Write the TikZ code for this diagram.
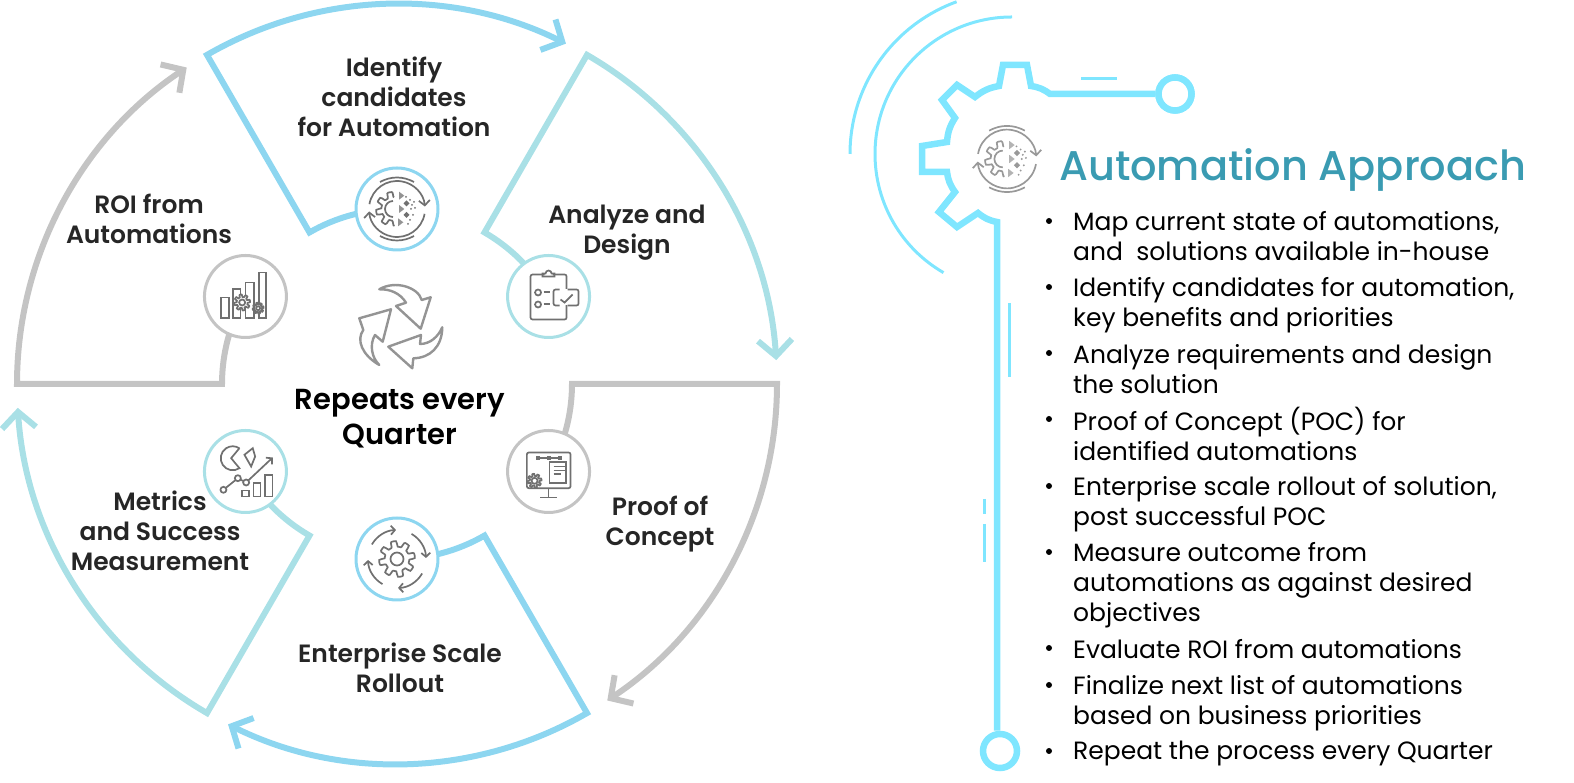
\documentclass[tikz,border=0pt]{standalone}
\usepackage{fontspec}
\setmainfont{Poppins}
\newfontfamily\labelfont{Poppins SemiBold}
\newfontfamily\titlefont{Poppins Medium}
\usetikzlibrary{arrows.meta,positioning}
\definecolor{blueline}{HTML}{8DD6F0}
\definecolor{tealline}{HTML}{A9E0E6}
\definecolor{greyline}{HTML}{C4C4C4}
\definecolor{cyanline}{HTML}{7FE6FF}
\definecolor{titleteal}{HTML}{3A9BB2}
\definecolor{icongrey}{HTML}{707070}
\tikzset{
  gearpath/.pic={\draw[fill=white] plot[domain=0:360,samples=121,smooth] (\x:{#1*(0.84+0.16*tanh(4*sin(8*\x)))}) -- cycle;},
  autoicon/.pic={
    \draw (-17,27) .. controls (-6,33) and (6,33) .. (17,27);
    \draw (-17,-27) .. controls (-6,-33) and (6,-33) .. (17,-27);
    \draw[-{Straight Barb[length=5,width=11]}] (170:28) arc[start angle=170,end angle=5,radius=28];
    \draw[-{Straight Barb[length=5,width=11]}] (-10:28) arc[start angle=-10,end angle=-175,radius=28];
    \draw plot[domain=85:275,samples=61,smooth] ([xshift=-4]\x:{17*(0.84+0.16*tanh(4*sin(8*\x)))});
    \draw (-4,8) arc[start angle=90,end angle=270,radius=8];
    \foreach \tx/\ty in {4.3/13.3,4.3/0,3.3/-13.3}{\fill[fill opacity=.75] (\tx-2.2,\ty+4) -- (\tx+3,\ty) -- (\tx-2.2,\ty-4) -- cycle;}
    \foreach \tx/\ty in {9.5/5.7,9.5/-6}{\fill (\tx-3,\ty) -- (\tx,\ty+3) -- (\tx+3,\ty) -- (\tx,\ty-3) -- cycle;}
    \foreach \tx/\ty in {9/12,13/9,15/4,17/7,14/0,18/1,13/-11,16/-6,11/-15}{\fill (\tx,\ty) circle[radius=1];}
  },
  clipicon/.pic={
    \draw[rounded corners=2] (-4,22) -- (-18,22) -- (-18,-23) -- (18,-23) -- (18,22) -- (4,22);
    \draw (-6,22) -- (-6,23) -- (-3,23) arc[start angle=180,end angle=0,radius=3] -- (6,23) -- (6,20) -- (-6,20) -- cycle;
    \foreach \ty in {4,-8}{\draw (-10.5,\ty) circle[radius=3]; \draw (-5,\ty+.5) -- (1,\ty+.5);}
    \fill[white] (14,-9) rectangle (22,7);
    \draw[rounded corners=2] (11,7) -- (5,7) -- (5,-9) -- (11,-9);
    \draw[rounded corners=2] (19,7) -- (30,7) -- (30,-9) -- (19,-9);
    \draw (12,-3) -- (16,-6) -- (24,2);
  },
  roiicon/.pic={
    \foreach \xa/\xb/\yt in {-24.3/-16.7/-1,-12.3/-5/7.3,0/8.3/14,13.3/20.7/24}{\draw (\xa,-21.7) rectangle (\xb,\yt);}
    \pic at (-3.3,-6) {gearpath=8};
    \draw[fill=white] (-3.3,-6) circle[radius=3];
    \pic at (12.7,-11.7) {gearpath=5.5};
    \draw (12.7,-11.7) circle[radius=2];
  },
  pocicon/.pic={
    \draw[rounded corners=2] (-21.7,19) rectangle (22,-16.7);
    \draw (0,-16.7) -- (0,-26) (-8.3,-26) -- (8.3,-26);
    \draw (-11,13.3) -- (11,13.3);
    \foreach \tx in {-10.7,0,11}{\fill (\tx-2,11.3) rectangle (\tx+2,15.3);}
    \draw[fill=white] (1,9.3) rectangle (17.7,-11.7);
    \foreach \ty/\tl in {5/11,1/11,-2.7/7}{\draw (5,\ty) -- (5+\tl,\ty);}
    \pic at (-14,-9.3) {gearpath=7};
    \draw[fill=white] (-14,-9.3) circle[radius=3];
  },
  metricicon/.pic={
    \draw (-6,23.3) -- (-14.3,13.3) -- (-6,3.3) arc[start angle=-56,end angle=-304,radius=12];
    \draw (-1,16.7) -- (7.3,23.3) -- (9.7,15) -- (5.7,5) -- cycle;
    \draw[-{Straight Barb[length=4,width=9]}] (-22,-18.3) -- (-7.6,-6.7) -- (0.7,-11) -- (27.3,14);
    \foreach \tx/\ty in {-22/-18.3,-7.6/-6.7,0.7/-11}{\draw[fill=white] (\tx,\ty) circle[radius=3];}
    \foreach \xa/\xb/\yt in {-3.7/3.7/-19,8/15/-11.6,19.7/27/-3.6}{\draw (\xa,-25) rectangle (\xb,\yt);}
  },
  rollicon/.pic={
    \pic {gearpath=18};
    \draw (0,0) circle[radius=6.5];
    \foreach \sa in {150,60,-30,-120}{\draw[-{Straight Barb[length=4,width=9]}] (\sa:29) arc[start angle=\sa,end angle=\sa-58,radius=29];}
  }
}
\begin{document}
\begin{tikzpicture}[x=1pt,y=1pt,>=Stealth,
  labeltext/.style={font=\labelfont\fontsize{25}{30}\selectfont,text=black!85,align=center,inner sep=0pt},
  listtext/.style={font=\fontsize{25}{30}\selectfont,text=black,align=left,anchor=west,inner sep=0pt},
  iconring/.style={circle,draw,fill=white,line width=3,minimum size=82,inner sep=0pt},
  iconline/.style={draw=icongrey,fill=none,line width=1.7,icongrey},
  wheelline/.style={line width=6,line join=miter,miter limit=20},
  panelline/.style={draw=cyanline,line width=6.5},
  knob/.style={circle,draw=cyanline,line width=6.5,fill=white,inner sep=0pt}]
\useasboundingbox (0,0) rectangle (1574,783);
% wheel
\begin{scope}[shift={(397,399)}]
\foreach \sa/\col in {120/blueline,60/tealline,0/greyline,-60/blueline,-120/tealline,-180/greyline}{
  \draw[wheelline,draw=\col,-{Straight Barb[length=16,width=34]}] (\sa-30:175) arc[start angle=\sa-30,end angle=\sa,radius=175] -- (\sa:380) arc[start angle=\sa,end angle=\sa-56.4,radius=380];
}
\node[iconring,draw=blueline] (ringA) at (90:175) {};
\node[iconring,draw=tealline] (ringB) at (30:175) {};
\node[iconring,draw=greyline] (ringC) at (-30:175) {};
\node[iconring,draw=blueline] (ringD) at (-90:175) {};
\node[iconring,draw=tealline] (ringE) at (-150:175) {};
\node[iconring,draw=greyline] (ringF) at (150:175) {};
\end{scope}
\pic[iconline] at (ringA) {autoicon};
\pic[iconline] at (ringB) {clipicon};
\pic[iconline] at (ringC) {pocicon};
\pic[iconline] at (ringD) {rollicon};
\pic[iconline] at (ringE) {metricicon};
\pic[iconline] at (ringF) {roiicon};
% recycle arrows
\begin{scope}[shift={(400,458)},draw=black!42,line width=2.4,line join=round]
\draw (-20.7,35.7) .. controls (-5,45) and (18,38) .. (21.7,25) -- (30.7,27.7) -- (20.7,-3.7) -- (-4,19) -- (6,22.3) .. controls (0,32) and (-10,36) .. cycle;
\draw (-20.7,-40) .. controls (-38,-30) and (-44,-15) .. (-36.7,-5) -- (-40.7,6.7) -- (-9,15.7) -- (-17.3,-16.7) -- (-25,-10) .. controls (-31,-20) and (-28,-33) .. cycle;
\draw (42.3,-2.3) .. controls (42,-22) and (30,-33) .. (13.3,-33.3) -- (12.3,-43.3) -- (-11.7,-21.7) -- (21,-10) -- (20,-19) .. controls (30,-19) and (38,-12) .. cycle;
\end{scope}
% labels
\node[labeltext] (lblA) at (394,686) {Identify\\candidates\\for Automation};
\node[labeltext] (lblB) at (627,550) {Analyze and\\Design};
\node[labeltext] (lblC) at (660,259) {Proof of\\Concept};
\node[labeltext] (lblD) at (400,115) {Enterprise Scale\\Rollout};
\node[labeltext] (lblE) at (160,252) {Metrics\\and Success\\Measurement};
\node[labeltext] (lblF) at (149,564) {ROI from\\Automations};
\node[labeltext,text=black,font=\labelfont\fontsize{29}{35}\selectfont] (lblRep) at (400,364) {Repeats every\\Quarter};
% panel
\node[knob,minimum size=33] (knobTop) at (1175,689) {};
\node[knob,minimum size=34] (knobBot) at (1000,32) {};
\draw[panelline,line join=miter] (knobBot.north -| 997,0) -- (997,561) to[bend left=14] (978,570) -- (957,556) -- (939,571) -- (955,591) to[bend left=14] (947,611) -- (922,611) -- (922,637) -- (947,641) to[bend left=14] (955,665) -- (942,683) -- (957,698) -- (975,686) to[bend left=14] (999,697) -- (1003,718) -- (1027,718) -- (1031,697) to[bend left=14] (1050,689) -- (knobTop);
\node[knob,minimum size=33] at (knobTop) {};
\draw[cyanline,line width=3] (1012,629)++(90:137) arc[start angle=90,end angle=240,radius=137];
\draw[cyanline,line width=3] (1012,629)++(110:162) arc[start angle=110,end angle=180,radius=162];
\draw[cyanline,line width=3] (1081,704) -- (1117,704);
\draw[cyanline,line width=3] (1009,480) -- (1009,406);
\draw[cyanline,line width=3] (984,284) -- (984,269) (984,259) -- (984,221);
\pic[draw=black!40,fill=none,line width=1.7,black!40,scale=1.05] at (1007,624) {autoicon};
\node[font=\titlefont\fontsize{41.5}{50}\selectfont,text=titleteal,anchor=west,inner sep=0pt] (title) at (1059,613) {Automation Approach};
\foreach \nm/\ty/\tx in {
  a/547/{Map current state of automations,\\and\ \ solutions available in-house},
  b/478/{Identify candidates for automation,\\key benefits and priorities},
  c/414/{Analyze requirements and design\\the solution},
  d/349/{Proof of Concept (POC) for\\identified automations},
  e/279/{Enterprise scale rollout of solution,\\post successful POC},
  f/198/{Measure outcome from\\automations as against desired\\objectives},
  g/134/{Evaluate ROI from automations},
  h/80/{Finalize next list of automations\\based on business priorities},
  i/29/{Repeat the process every Quarter}}{
  \node[listtext] (item\nm) at (1073,\ty) {\tx};
}
\foreach \ty in {562,496,430,364,297,231,135,98,32}{
  \fill (1049,\ty) circle[radius=3];
}
\end{tikzpicture}
\end{document}
